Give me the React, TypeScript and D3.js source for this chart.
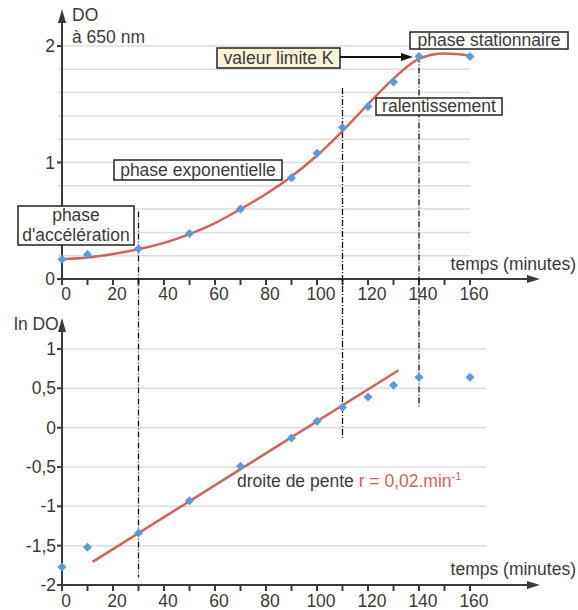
import React from 'react';
import * as d3 from 'd3';

// growth data
const times = [0, 10, 30, 50, 70, 90, 100, 110, 120, 130, 140, 160];
const doValues = [0.17, 0.21, 0.26, 0.39, 0.6, 0.87, 1.08, 1.3, 1.48, 1.69, 1.91, 1.91];
const lnDoValues = [-1.77, -1.52, -1.34, -0.93, -0.49, -0.13, 0.08, 0.26, 0.39, 0.54, 0.64, 0.64];

// smooth fitted curve of the top chart
const curveTimes = [0, 10, 20, 30, 40, 50, 60, 70, 80, 90, 100, 110, 120, 130, 140, 150, 161];
const curveValues = [0.17, 0.185, 0.215, 0.255, 0.31, 0.385, 0.48, 0.6, 0.73, 0.88, 1.06, 1.27, 1.5, 1.72, 1.89, 1.935, 1.915];

// straight line of the bottom chart: ln DO = a + r t
const fitStart = 12;
const fitEnd = 132;
const fitIntercept = -1.95;
const fitSlope = 0.0203;

const xTicks = d3.range(0, 161, 10);
const xLabels = [0, 20, 40, 60, 80, 100, 120, 140, 160];
const topGrid = [0.2, 0.4, 0.6, 0.8, 1, 1.2, 1.4, 1.6, 1.8, 2];
const topLabels = [0, 1, 2];
const botGrid = [-1.5, -1, -0.5, 0, 0.5, 1];
const botLabels = [-2, -1.5, -1, -0.5, 0, 0.5, 1];

// phase boundaries: time, top of line (DO), bottom of line (ln DO)
const phaseLines = [
  { t: 30, top: 0.58, bottom: -1.9 },
  { t: 110, top: 1.64, bottom: -0.13 },
  { t: 140, top: 1.91, bottom: 0.26 },
];

const W = 578;
const H = 610;
const font = '"Liberation Sans", Arial, sans-serif';
const ink = '#3a3a3a';
const red = '#d0625c';
const blue = '#5b9bd5';
const grid = '#dcdce2';
const fs = 17.5;

const x = d3.scaleLinear().domain([0, 160]).range([62, 470]);
const yTop = d3.scaleLinear().domain([0, 2]).range([279, 46]);
const yBot = d3.scaleLinear().domain([-2, 1]).range([585, 349]);

const fmt = (v: number) => String(v).replace('.', ',');

function Diamond({ cx, cy }: { cx: number; cy: number }) {
  const s = 4.5;
  return (
    <path
      d={`M${cx},${cy - s}L${cx + s},${cy}L${cx},${cy + s}L${cx - s},${cy}Z`}
      fill={blue}
    />
  );
}

function XAxis({ y0, labelY, titleY }: { y0: number; labelY: number; titleY: number }) {
  return (
    <g>
      <line x1={62} x2={532} y1={y0} y2={y0} stroke={ink} strokeWidth={2} />
      <path d={`M540,${y0}L527,${y0 - 4}L527,${y0 + 4}Z`} fill={ink} />
      {xTicks.map(t => (
        <line key={t} x1={x(t)} x2={x(t)} y1={y0} y2={y0 + 6} stroke={ink} strokeWidth={2} />
      ))}
      {xLabels.map(t => (
        <text key={t} x={x(t) + 4} y={labelY} textAnchor="middle" fontSize={fs} fill={ink}>
          {t}
        </text>
      ))}
      <text x={576} y={titleY} textAnchor="end" fontSize={fs} fill={ink}>
        temps (minutes)
      </text>
    </g>
  );
}

function Box({ x0, y0, w, h, fill, lines, base }: { x0: number; y0: number; w: number; h: number; fill: string; lines: string[]; base: number[] }) {
  return (
    <g>
      <rect x={x0} y={y0} width={w} height={h} fill={fill} stroke="#222" strokeWidth={1.5} />
      {lines.map((l, i) => (
        <text key={i} x={x0 + w / 2} y={y0 + base[i]} textAnchor="middle" fontSize={fs} fill={ink}>
          {l}
        </text>
      ))}
    </g>
  );
}

export default function App() {
  const topLine = d3
    .line<number>()
    .x((_, i) => x(curveTimes[i]))
    .y(d => yTop(d))
    .curve(d3.curveMonotoneX)(curveValues);

  return (
    <svg
      width={W}
      height={H}
      style={{ position: 'absolute', left: 0, top: 0, background: '#fff' }}
      fontFamily={font}
    >
      {/* ---------- top chart ---------- */}
      {topGrid.map(v => (
        <line key={v} x1={58} x2={470} y1={yTop(v)} y2={yTop(v)} stroke={grid} strokeWidth={1.5} />
      ))}
      <line x1={62} x2={62} y1={281} y2={18} stroke={ink} strokeWidth={2} />
      <path d="M62,9L58,23L66,23Z" fill={ink} />
      {topLabels.map(v => (
        <g key={v}>
          <line x1={57} x2={62} y1={yTop(v)} y2={yTop(v)} stroke={ink} strokeWidth={2} />
          <text x={55} y={yTop(v) + 6} textAnchor="end" fontSize={fs} fill={ink}>
            {v}
          </text>
        </g>
      ))}
      <text x={72} y={21} fontSize={fs} fill={ink}>DO</text>
      <text x={72} y={43} fontSize={fs} fill={ink}>à 650 nm</text>
      <XAxis y0={279} labelY={300} titleY={270} />

      {/* ---------- bottom chart ---------- */}
      {botGrid.map(v => (
        <line key={v} x1={58} x2={486} y1={yBot(v)} y2={yBot(v)} stroke={grid} strokeWidth={1.5} />
      ))}
      <line x1={62} x2={62} y1={587} y2={328} stroke={ink} strokeWidth={2} />
      <path d="M62,318L58,332L66,332Z" fill={ink} />
      {botLabels.map(v => (
        <g key={v}>
          <line x1={57} x2={62} y1={yBot(v)} y2={yBot(v)} stroke={ink} strokeWidth={2} />
          <text x={56} y={yBot(v) + 6} textAnchor="end" fontSize={fs} fill={ink}>
            {fmt(v)}
          </text>
        </g>
      ))}
      <text x={14} y={330} fontSize={fs} fill={ink}>ln DO</text>
      <XAxis y0={585} labelY={607} titleY={575} />

      {/* ---------- phase boundaries ---------- */}
      {phaseLines.map(p => (
        <line
          key={p.t}
          x1={x(p.t)}
          x2={x(p.t)}
          y1={yTop(p.top)}
          y2={yBot(p.bottom)}
          stroke="#111"
          strokeWidth={1.3}
          strokeDasharray="6 2 1 2"
        />
      ))}

      {/* ---------- marks ---------- */}
      <path d={topLine ?? ''} fill="none" stroke={red} strokeWidth={2.5} />
      {times.map((t, i) => (
        <Diamond key={'a' + t} cx={x(t)} cy={yTop(doValues[i])} />
      ))}

      <line
        x1={x(fitStart)}
        x2={x(fitEnd)}
        y1={yBot(fitIntercept + fitSlope * fitStart)}
        y2={yBot(fitIntercept + fitSlope * fitEnd)}
        stroke={red}
        strokeWidth={2.5}
      />
      {times.map((t, i) => (
        <Diamond key={'b' + t} cx={x(t)} cy={yBot(lnDoValues[i])} />
      ))}

      {/* ---------- annotations ---------- */}
      <Box x0={217} y0={48} w={123} h={20} fill="#fbf3d8" lines={['valeur limite K']} base={[16]} />
      <line x1={340} x2={404} y1={57} y2={57} stroke="#111" strokeWidth={1.8} />
      <path d="M413,57L401,53L401,61Z" fill="#111" />
      <Box x0={410} y0={32} w={158} h={17} fill="#fff" lines={['phase stationnaire']} base={[14]} />
      <Box x0={376} y0={98} w={126} h={17} fill="#fff" lines={['ralentissement']} base={[14]} />
      <Box x0={114} y0={160} w={168} h={20} fill="#fff" lines={['phase exponentielle']} base={[16]} />
      <Box x0={18} y0={206} w={116} h={39} fill="#fff" lines={['phase', "d'accélération"]} base={[15, 35]} />

      <text x={237} y={487} fontSize={17.5} fill={ink}>
        droite de pente <tspan fill={red}>r = 0,02.min</tspan>
        <tspan fill={red} fontSize={11} dy={-7}>-1</tspan>
      </text>
    </svg>
  );
}
